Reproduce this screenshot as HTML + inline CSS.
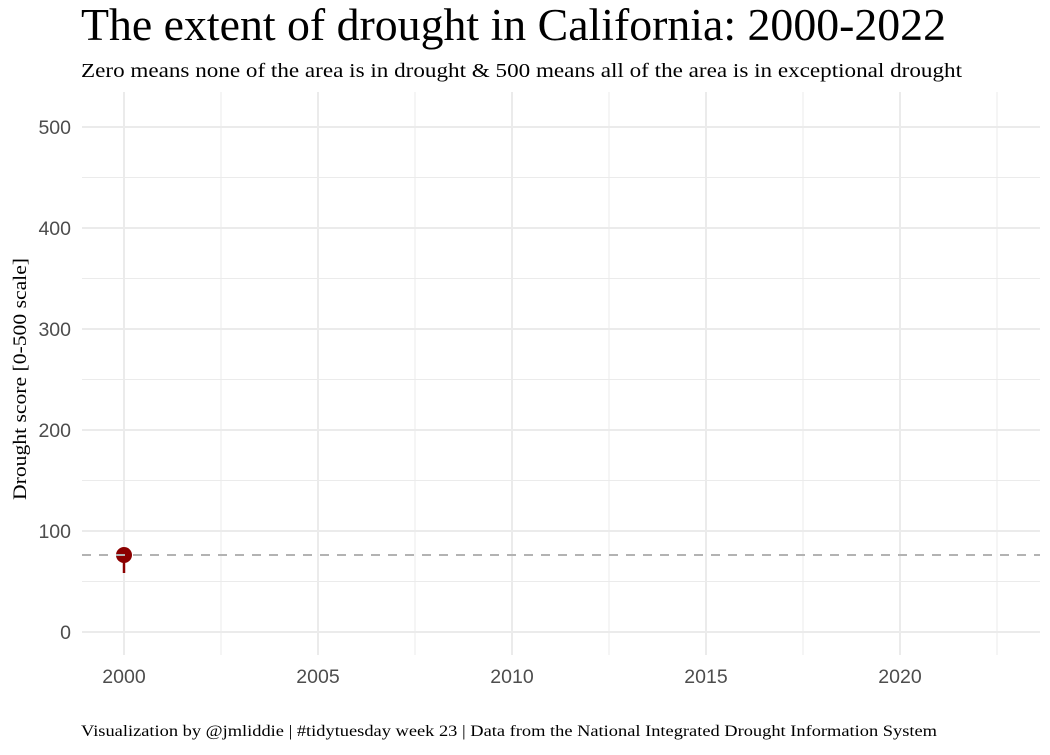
<!DOCTYPE html>
<html><head><meta charset="utf-8"><style>
body{margin:0;background:#fff;}
text{font-family:"Liberation Serif",serif;}
.t text{font-family:"Liberation Sans",sans-serif;font-size:19.5px;fill:#4d4d4d;}
</style></head><body>
<svg width="1050" height="750" xmlns="http://www.w3.org/2000/svg">
<rect width="1050" height="750" fill="#fff"/>
<text x="81" y="40" font-size="45" fill="#000" textLength="865" lengthAdjust="spacingAndGlyphs">The extent of drought in California: 2000-2022</text>
<text x="81" y="77" font-size="20" fill="#000" textLength="881" lengthAdjust="spacingAndGlyphs">Zero means none of the area is in drought &amp; 500 means all of the area is in exceptional drought</text>
<g stroke="#ebebeb" stroke-width="1">
<line x1="82" x2="1040" y1="177.5" y2="177.5"/><line x1="82" x2="1040" y1="278.5" y2="278.5"/>
<line x1="82" x2="1040" y1="379.5" y2="379.5"/><line x1="82" x2="1040" y1="480.5" y2="480.5"/>
<line x1="82" x2="1040" y1="581.5" y2="581.5"/>
<line y1="92" y2="655" x1="221" x2="221"/><line y1="92" y2="655" x1="415" x2="415"/>
<line y1="92" y2="655" x1="609" x2="609"/><line y1="92" y2="655" x1="803" x2="803"/>
<line y1="92" y2="655" x1="997" x2="997"/>
</g>
<g stroke="#ebebeb" stroke-width="2">
<line x1="82" x2="1040" y1="127" y2="127"/><line x1="82" x2="1040" y1="228" y2="228"/>
<line x1="82" x2="1040" y1="329" y2="329"/><line x1="82" x2="1040" y1="430" y2="430"/>
<line x1="82" x2="1040" y1="531" y2="531"/><line x1="82" x2="1040" y1="632" y2="632"/>
<line y1="92" y2="655" x1="124" x2="124"/><line y1="92" y2="655" x1="318" x2="318"/>
<line y1="92" y2="655" x1="512" x2="512"/><line y1="92" y2="655" x1="706" x2="706"/>
<line y1="92" y2="655" x1="900" x2="900"/>
</g>
<line x1="124" x2="124" y1="555" y2="573" stroke="#8b0000" stroke-width="2.5"/>
<circle cx="124" cy="555" r="8" fill="#8b0000"/>
<line x1="82" x2="1040" y1="555" y2="555" stroke="#b3b3b3" stroke-width="2" stroke-dasharray="9,8"/>
<g class="t" text-anchor="end">
<text x="71" y="134">500</text><text x="71" y="235">400</text><text x="71" y="336">300</text>
<text x="71" y="437">200</text><text x="71" y="538">100</text><text x="71" y="639">0</text>
</g>
<g class="t" text-anchor="middle">
<text x="124" y="683">2000</text><text x="318" y="683">2005</text><text x="512" y="683">2010</text>
<text x="706" y="683">2015</text><text x="900" y="683">2020</text>
</g>
<text transform="translate(26,379) rotate(-90)" text-anchor="middle" font-size="19" textLength="242" lengthAdjust="spacingAndGlyphs">Drought score [0-500 scale]</text>
<text x="81" y="736" font-size="16" textLength="856" lengthAdjust="spacingAndGlyphs">Visualization by @jmliddie | #tidytuesday week 23 | Data from the National Integrated Drought Information System</text>
</svg>
</body></html>
